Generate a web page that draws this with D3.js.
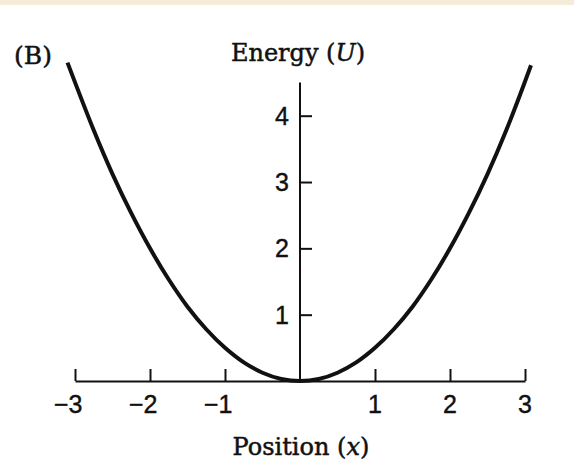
<!DOCTYPE html>
<html>
<head>
<meta charset="utf-8">
<script src="https://cdn.jsdelivr.net/npm/d3@7"></script>
<style>
  html, body { margin: 0; padding: 0; background: #fff; }
  svg { display: block; }
</style>
</head>
<body>
<svg id="chart" width="574" height="469"></svg>
<script>
// Potential energy curve U(x) sampled along the position axis
const positions = [-3.1, -2.75, -2.5, -2.25, -2, -1.75, -1.5, -1.25, -1, -0.75, -0.5, -0.25, 0,
                   0.25, 0.5, 0.75, 1, 1.25, 1.5, 1.75, 2, 2.25, 2.5, 2.75, 3.08];
const energies  = [4.8, 3.78, 3.12, 2.53, 2.0, 1.53, 1.12, 0.78, 0.5, 0.28, 0.125, 0.03, 0,
                   0.03, 0.125, 0.28, 0.5, 0.78, 1.12, 1.53, 2.0, 2.53, 3.12, 3.78, 4.76];
const xTicks = [-3, -2, -1, 1, 2, 3];
const yTicks = [1, 2, 3, 4];
const yTop = 4.5;

const svg = d3.select("#chart");
const W = 574, H = 469;

// thin beige band along the top edge
svg.append("rect").attr("x", 0).attr("y", 0).attr("width", W).attr("height", 5)
  .attr("fill", "#f4ebd8");

const x = d3.scaleLinear().domain([-3, 3]).range([75, 525]);
const y = d3.scaleLinear().domain([0, 4]).range([381, 115.7]);

const ink = "#111";
const serif = "'DejaVu Serif', serif";
const sans = "'Liberation Sans', Arial, sans-serif";

// x axis: baseline with upward ticks
const xAxis = d3.axisTop(x).tickValues(xTicks).tickSize(12).tickSizeOuter(0).tickFormat("");
const gx = svg.append("g").attr("transform", `translate(0,${y(0)})`).call(xAxis);
gx.select(".domain").attr("stroke", ink).attr("stroke-width", 2);
gx.selectAll(".tick line").attr("stroke", ink).attr("stroke-width", 2);

// x tick labels: digit centred on the tick, minus sign hanging to the left
svg.append("g").selectAll("text").data(xTicks).join("text")
  .attr("x", d => x(d) + (d < 0 ? 7.5 : 0))
  .attr("y", 413)
  .attr("text-anchor", d => d < 0 ? "end" : "middle")
  .attr("font-family", sans).attr("font-size", 25).attr("fill", ink)
  .attr("stroke", ink).attr("stroke-width", 0.4)
  .text(d => d < 0 ? "\u2212" + Math.abs(d) : String(d));

// y axis: vertical line through x = 0 with ticks to the right
const yAxis = d3.axisRight(y).tickValues(yTicks).tickSize(12).tickSizeOuter(0).tickFormat("");
const gy = svg.append("g").attr("transform", `translate(${x(0)},0)`).call(yAxis);
gy.select(".domain").remove();
gy.selectAll(".tick line").attr("stroke", ink).attr("stroke-width", 2);
gy.append("line").attr("x1", 0).attr("x2", 0).attr("y1", y(0)).attr("y2", y(yTop))
  .attr("stroke", ink).attr("stroke-width", 2);

svg.append("g").selectAll("text").data(yTicks).join("text")
  .attr("x", x(0) - 11)
  .attr("y", d => y(d))
  .attr("dy", "0.36em")
  .attr("text-anchor", "end")
  .attr("font-family", sans).attr("font-size", 25).attr("fill", ink)
  .attr("stroke", ink).attr("stroke-width", 0.4)
  .text(d => d);

// energy curve
const line = d3.line().x(d => x(d[0])).y(d => y(d[1])).curve(d3.curveCatmullRom.alpha(0.5));
svg.append("path")
  .datum(positions.map((p, i) => [p, energies[i]]))
  .attr("d", line)
  .attr("fill", "none").attr("stroke", ink).attr("stroke-width", 4)
  .attr("stroke-linecap", "butt");

// titles
const t1 = svg.append("text").attr("x", 298).attr("y", 61).attr("text-anchor", "middle")
  .attr("font-family", serif).attr("font-size", 24).attr("fill", ink)
  .attr("stroke", ink).attr("stroke-width", 0.5);
t1.append("tspan").text("Energy (");
t1.append("tspan").attr("font-style", "italic").text("U");
t1.append("tspan").text(")");

const t2 = svg.append("text").attr("x", 301).attr("y", 455).attr("text-anchor", "middle")
  .attr("font-family", serif).attr("font-size", 24).attr("fill", ink)
  .attr("stroke", ink).attr("stroke-width", 0.5);
t2.append("tspan").text("Position (");
t2.append("tspan").attr("font-style", "italic").text("x");
t2.append("tspan").text(")");

svg.append("text").attr("x", 14).attr("y", 64)
  .attr("font-family", serif).attr("font-size", 25).attr("fill", ink)
  .attr("stroke", ink).attr("stroke-width", 0.5)
  .text("(B)");
</script>
</body>
</html>
